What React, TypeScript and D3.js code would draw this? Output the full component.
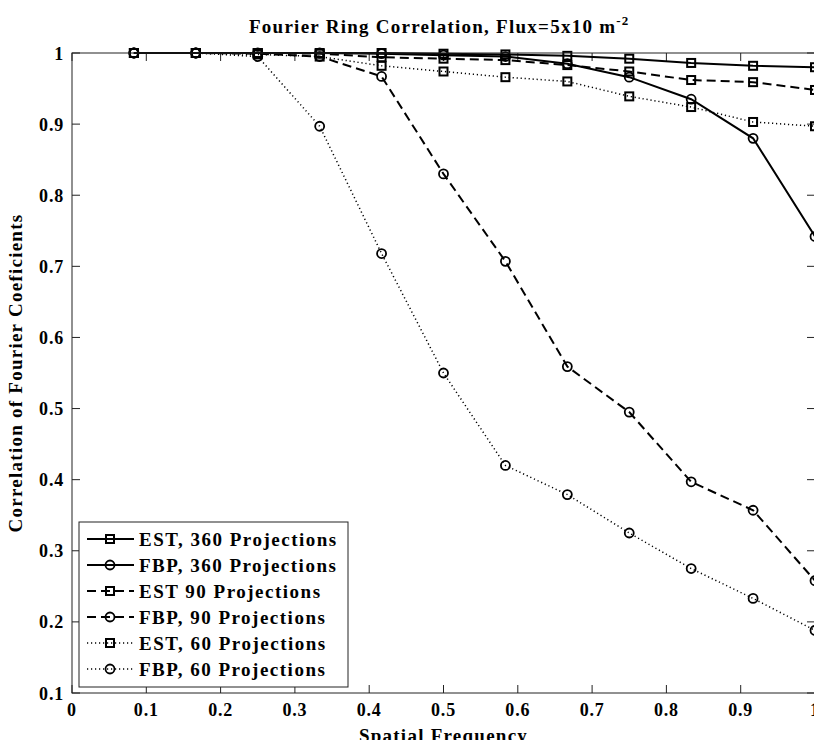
import React, { useRef, useEffect } from "react";
import * as d3 from "d3";

const freqs = [1, 2, 3, 4, 5, 6, 7, 8, 9, 10, 11, 12].map((i) => i / 12);

const est360 = [1, 1, 1, 1, 1, 0.999, 0.998, 0.996, 0.992, 0.986, 0.982, 0.98];
const fbp360 = [1, 1, 1, 1, 0.999, 0.997, 0.995, 0.985, 0.966, 0.935, 0.88, 0.742];
const est90 = [1, 1, 1, 0.999, 0.994, 0.992, 0.99, 0.983, 0.974, 0.962, 0.959, 0.948];
const fbp90 = [1, 1, 0.999, 0.995, 0.967, 0.83, 0.707, 0.559, 0.495, 0.397, 0.357, 0.258];
const est60 = [1, 1, 0.998, 0.995, 0.982, 0.974, 0.966, 0.96, 0.939, 0.924, 0.903, 0.897];
const fbp60 = [1, 1, 0.995, 0.897, 0.718, 0.55, 0.42, 0.379, 0.325, 0.275, 0.233, 0.188];

const xTicks = [0, 0.1, 0.2, 0.3, 0.4, 0.5, 0.6, 0.7, 0.8, 0.9, 1];
const yTicks = [0.1, 0.2, 0.3, 0.4, 0.5, 0.6, 0.7, 0.8, 0.9, 1];

const DOT = "1.2,2.8";
const DASH = "9,5";

const series = [
  { name: "EST, 360 Projections", values: est360, marker: "square", dash: null },
  { name: "FBP, 360 Projections", values: fbp360, marker: "circle", dash: null },
  { name: "EST 90 Projections", values: est90, marker: "square", dash: DASH },
  { name: "FBP, 90 Projections", values: fbp90, marker: "circle", dash: DASH },
  { name: "EST, 60 Projections", values: est60, marker: "square", dash: DOT },
  { name: "FBP, 60 Projections", values: fbp60, marker: "circle", dash: DOT },
];

const W = 822;
const H = 748;
const left = 72;
const right = 815;
const top = 53;
const bottom = 693;
const font = "'Liberation Serif', 'Times New Roman', serif";

function drawMarker(g, type, cx, cy) {
  if (type === "square") {
    g.append("rect")
      .attr("x", cx - 4)
      .attr("y", cy - 4)
      .attr("width", 8)
      .attr("height", 8)
      .attr("fill", "none")
      .attr("stroke", "#000")
      .attr("stroke-width", 2);
  } else {
    g.append("circle")
      .attr("cx", cx)
      .attr("cy", cy)
      .attr("r", 4.5)
      .attr("fill", "none")
      .attr("stroke", "#000")
      .attr("stroke-width", 1.8);
  }
}

function Chart() {
  const ref = useRef<SVGSVGElement>(null);

  useEffect(() => {
    const svg = d3.select(ref.current);
    svg.selectAll("*").remove();

    const x = d3.scaleLinear().domain([0, 1]).range([left, right]);
    const y = d3.scaleLinear().domain([0.1, 1]).range([bottom, top]);

    svg.append("rect").attr("width", W).attr("height", H).attr("fill", "#fff");

    // ticks on all four sides, pointing inward
    const tk = 8;
    const axes = svg.append("g").attr("stroke", "#222").attr("stroke-width", 1);
    xTicks.forEach((t) => {
      axes.append("line").attr("x1", x(t)).attr("x2", x(t)).attr("y1", bottom).attr("y2", bottom - tk);
      axes.append("line").attr("x1", x(t)).attr("x2", x(t)).attr("y1", top).attr("y2", top + tk);
    });
    yTicks.forEach((t) => {
      axes.append("line").attr("x1", left).attr("x2", left + tk).attr("y1", y(t)).attr("y2", y(t));
      axes.append("line").attr("x1", right).attr("x2", right - tk).attr("y1", y(t)).attr("y2", y(t));
    });

    const line = d3
      .line<number>()
      .x((d, i) => x(freqs[i]))
      .y((d) => y(d));

    series.forEach((s) => {
      svg
        .append("path")
        .datum(s.values)
        .attr("d", line)
        .attr("fill", "none")
        .attr("stroke", "#000")
        .attr("stroke-width", s.dash === DOT ? 1.5 : 2)
        .attr("stroke-dasharray", s.dash);
      const mg = svg.append("g");
      s.values.forEach((v, i) => drawMarker(mg, s.marker, x(freqs[i]), y(v)));
    });

    // box
    svg
      .append("rect")
      .attr("x", left)
      .attr("y", top)
      .attr("width", right - left)
      .attr("height", bottom - top)
      .attr("fill", "none")
      .attr("stroke", "#222")
      .attr("stroke-width", 1);

    const labels = svg
      .append("g")
      .attr("font-family", font)
      .attr("font-weight", "bold")
      .attr("fill", "#000");

    xTicks.forEach((t) => {
      labels
        .append("text")
        .attr("x", x(t))
        .attr("y", bottom + 23)
        .attr("text-anchor", "middle")
        .attr("font-size", 18)
        .attr("letter-spacing", 0.8)
        .text(d3.format("~g")(t));
    });
    yTicks.forEach((t) => {
      labels
        .append("text")
        .attr("x", left - 8)
        .attr("y", y(t) + 6.5)
        .attr("text-anchor", "end")
        .attr("font-size", 18)
        .attr("letter-spacing", 0.8)
        .text(d3.format("~g")(t));
    });

    labels
      .append("text")
      .attr("x", (left + right) / 2)
      .attr("y", 742)
      .attr("text-anchor", "middle")
      .attr("font-size", 19)
      .attr("letter-spacing", 1.25)
      .text("Spatial Frequency");

    labels
      .append("text")
      .attr("transform", `translate(22,${(top + bottom) / 2}) rotate(-90)`)
      .attr("text-anchor", "middle")
      .attr("font-size", 19)
      .attr("letter-spacing", 1.25)
      .text("Correlation of Fourier Coeficients");

    const title = labels
      .append("text")
      .attr("x", 249)
      .attr("y", 33)
      .attr("font-size", 19)
      .attr("letter-spacing", 1.25);
    title.append("tspan").text("Fourier Ring Correlation, Flux=5x10 m");
    title.append("tspan").attr("dy", -8).attr("font-size", 13).text("-2");

    // legend
    const lg = svg.append("g");
    const lx = 79;
    const ly = 522;
    const rowH = 26;
    lg.append("rect")
      .attr("x", lx)
      .attr("y", ly)
      .attr("width", 269)
      .attr("height", 165)
      .attr("fill", "#fff")
      .attr("stroke", "#222")
      .attr("stroke-width", 1);
    series.forEach((s, i) => {
      const cy = ly + 17 + i * rowH;
      lg.append("line")
        .attr("x1", lx + 8)
        .attr("x2", lx + 55)
        .attr("y1", cy)
        .attr("y2", cy)
        .attr("stroke", "#000")
        .attr("stroke-width", s.dash === DOT ? 1.5 : 2)
        .attr("stroke-dasharray", s.dash);
      drawMarker(lg, s.marker, lx + 31, cy);
      lg.append("text")
        .attr("x", lx + 60)
        .attr("y", cy + 6.5)
        .attr("font-family", font)
        .attr("font-weight", "bold")
        .attr("font-size", 19)
        .attr("letter-spacing", 1.5)
        .text(s.name);
    });
  }, []);

  return <svg ref={ref} width={W} height={H} style={{ display: "block" }}></svg>;
}

export default function App() {
  return (
    <div style={{ margin: -8 }}>
      <Chart />
    </div>
  );
}
